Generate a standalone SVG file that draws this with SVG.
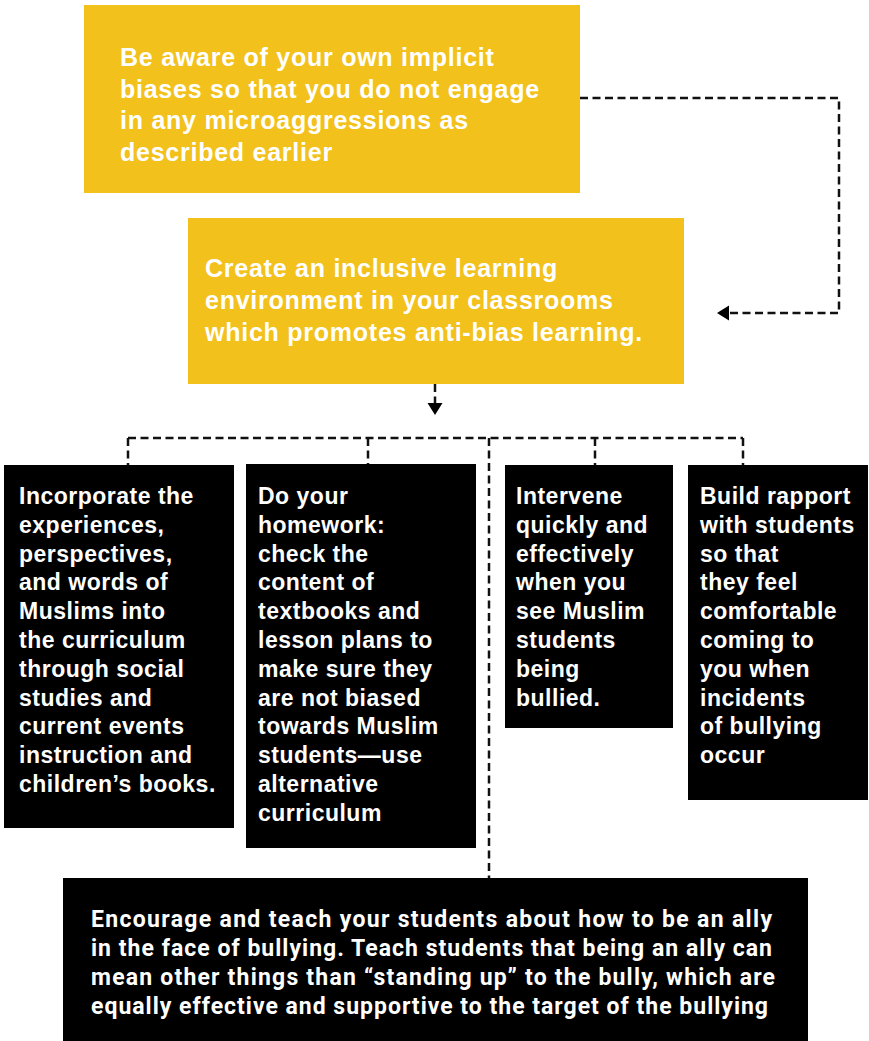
<svg xmlns="http://www.w3.org/2000/svg" width="869" height="1041" viewBox="0 0 869 1041">
<style>
.yel{fill:#F3C11C}
.blk{fill:#000}
.yt{font-family:"Liberation Sans",Arial,sans-serif;font-weight:700;font-size:25px;letter-spacing:0.75px;fill:#fff}
.bt{font-family:"Liberation Sans",Arial,sans-serif;font-weight:700;font-size:23px;letter-spacing:0.5px;fill:#fff}
.ct{font-family:Roboto,"Liberation Sans",sans-serif;font-weight:700;font-size:23px;fill:#fff}
.dash{fill:none;stroke:#111;stroke-width:2.5;stroke-dasharray:8 4.5}
.head{fill:#000}
</style>
<rect width="869" height="1041" fill="#fff"/>
<g id="connectors">
  <polyline class="dash" points="580,98 839,98 839,313 729,313"/>
  <polygon class="head" points="717,313 729,305.5 729,320.5"/>
  <line class="dash" x1="435" y1="384" x2="435" y2="403"/>
  <polygon class="head" points="435,415 427.5,403 442.5,403"/>
  <line class="dash" x1="128" y1="438" x2="743" y2="438"/>
  <line class="dash" x1="128" y1="438" x2="128" y2="465"/>
  <line class="dash" x1="368" y1="438" x2="368" y2="464"/>
  <line class="dash" x1="489" y1="438" x2="489" y2="878"/>
  <line class="dash" x1="595" y1="438" x2="595" y2="465"/>
  <line class="dash" x1="743" y1="438" x2="743" y2="465"/>
</g>
<g id="node-aware">
  <rect class="yel" x="84" y="5" width="496" height="188"/>
  <text class="yt" x="120" y="66">Be aware of your own implicit</text>
  <text class="yt" x="120" y="97.7">biases so that you do not engage</text>
  <text class="yt" x="120" y="129.3">in any microaggressions as</text>
  <text class="yt" x="120" y="161">described earlier</text>
</g>
<g id="node-inclusive">
  <rect class="yel" x="188" y="218" width="496" height="166"/>
  <text class="yt" x="205" y="277">Create an inclusive learning</text>
  <text class="yt" x="205" y="309">environment in your classrooms</text>
  <text class="yt" x="205" y="341">which promotes anti-bias learning.</text>
</g>
<g id="node-incorporate">
  <rect class="blk" x="4" y="465" width="230" height="363"/>
  <text class="bt" x="19" y="504">Incorporate the</text>
  <text class="bt" x="19" y="532.8">experiences,</text>
  <text class="bt" x="19" y="561.6">perspectives,</text>
  <text class="bt" x="19" y="590.4">and words of</text>
  <text class="bt" x="19" y="619.2">Muslims into</text>
  <text class="bt" x="19" y="648">the curriculum</text>
  <text class="bt" x="19" y="676.8">through social</text>
  <text class="bt" x="19" y="705.6">studies and</text>
  <text class="bt" x="19" y="734.4">current events</text>
  <text class="bt" x="19" y="763.2">instruction and</text>
  <text class="bt" x="19" y="792">children’s books.</text>
</g>
<g id="node-homework">
  <rect class="blk" x="246" y="464" width="230" height="384"/>
  <text class="bt" x="258" y="504">Do your</text>
  <text class="bt" x="258" y="532.8">homework:</text>
  <text class="bt" x="258" y="561.6">check the</text>
  <text class="bt" x="258" y="590.4">content of</text>
  <text class="bt" x="258" y="619.2">textbooks and</text>
  <text class="bt" x="258" y="648">lesson plans to</text>
  <text class="bt" x="258" y="676.8">make sure they</text>
  <text class="bt" x="258" y="705.6">are not biased</text>
  <text class="bt" x="258" y="734.4">towards Muslim</text>
  <text class="bt" x="258" y="763.2">students—use</text>
  <text class="bt" x="258" y="792">alternative</text>
  <text class="bt" x="258" y="820.8">curriculum</text>
</g>
<g id="node-intervene">
  <rect class="blk" x="505" y="465" width="168" height="263"/>
  <text class="bt" x="516" y="504">Intervene</text>
  <text class="bt" x="516" y="532.8">quickly and</text>
  <text class="bt" x="516" y="561.6">effectively</text>
  <text class="bt" x="516" y="590.4">when you</text>
  <text class="bt" x="516" y="619.2">see Muslim</text>
  <text class="bt" x="516" y="648">students</text>
  <text class="bt" x="516" y="676.8">being</text>
  <text class="bt" x="516" y="705.6">bullied.</text>
</g>
<g id="node-rapport">
  <rect class="blk" x="688" y="465" width="180" height="335"/>
  <text class="bt" x="700" y="504">Build rapport</text>
  <text class="bt" x="700" y="532.8">with students</text>
  <text class="bt" x="700" y="561.6">so that</text>
  <text class="bt" x="700" y="590.4">they feel</text>
  <text class="bt" x="700" y="619.2">comfortable</text>
  <text class="bt" x="700" y="648">coming to</text>
  <text class="bt" x="700" y="676.8">you when</text>
  <text class="bt" x="700" y="705.6">incidents</text>
  <text class="bt" x="700" y="734.4">of bullying</text>
  <text class="bt" x="700" y="763.2">occur</text>
</g>
<g id="node-ally">
  <rect class="blk" x="63" y="878" width="745" height="163"/>
  <text class="ct" x="91" y="927" textLength="681" lengthAdjust="spacing">Encourage and teach your students about how to be an ally</text>
  <text class="ct" x="91" y="956" textLength="681" lengthAdjust="spacing">in the face of bullying. Teach students that being an ally can</text>
  <text class="ct" x="91" y="985" textLength="684" lengthAdjust="spacing">mean other things than “standing up” to the bully, which are</text>
  <text class="ct" x="91" y="1014" textLength="677" lengthAdjust="spacing">equally effective and supportive to the target of the bullying</text>
</g>
</svg>
